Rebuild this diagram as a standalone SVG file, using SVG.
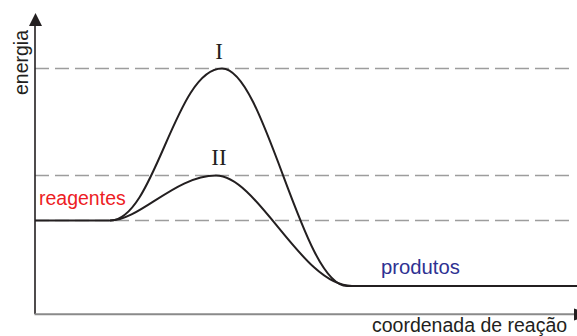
<svg xmlns="http://www.w3.org/2000/svg" width="577" height="336" viewBox="0 0 577 336">
<style>
.dash{stroke:#9d9d9d;stroke-width:1.6;stroke-dasharray:14 6;fill:none}
.curve{stroke:#231f20;stroke-width:2;fill:none;stroke-linejoin:round}
.sans{font-family:"Liberation Sans",Arial,sans-serif}
.roman{font-family:"Liberation Serif","Times New Roman",serif;font-size:23px;fill:#231f20}
</style>
<rect width="577" height="336" fill="#fff"/>
<g id="guides">
<line class="dash" x1="35" y1="68.5" x2="570" y2="68.5"/>
<line class="dash" x1="35" y1="175.5" x2="570" y2="175.5"/>
<line class="dash" x1="35" y1="220.5" x2="570" y2="220.5"/>
</g>
<g id="axes">
<line x1="35" y1="314" x2="35" y2="24" stroke="#231f20" stroke-width="1.6"/>
<polygon points="35.5,13 29,26 42,26" fill="#231f20"/>
<line x1="34.5" y1="314.3" x2="576" y2="314.3" stroke="#8a8a8a" stroke-width="2"/>
<polygon points="574,308.5 592,314.5 574,320.5" fill="#231f20"/>
<text class="sans" x="28" y="62.5" font-size="19.5" fill="#231f20" text-anchor="middle" transform="rotate(-90 28 62.5)">energia</text>
<text class="sans" x="372" y="332" font-size="19.5" fill="#231f20">coordenada de reação</text>
</g>
<g id="connectors">
<path id="curve-I" class="curve" d="M35,220.5 L110,220.5 C155,220.5 175,68.5 222,68.5 C265,68.5 302,286 347,286 L577,286"/>
<path id="curve-II" class="curve" d="M110,220.5 C140,220.5 175,175.5 216,175.5 C258,175.5 302,286 352,286"/>
</g>
<g id="label-I"><text class="roman" x="219" y="59" text-anchor="middle">I</text></g>
<g id="label-II"><text class="roman" x="219" y="165" text-anchor="middle">II</text></g>
<g id="reagentes"><text class="sans" x="39" y="205" font-size="19.5" fill="#ed1c24">reagentes</text></g>
<g id="produtos"><text class="sans" x="381" y="274" font-size="20.3" fill="#2e3192">produtos</text></g>
</svg>
